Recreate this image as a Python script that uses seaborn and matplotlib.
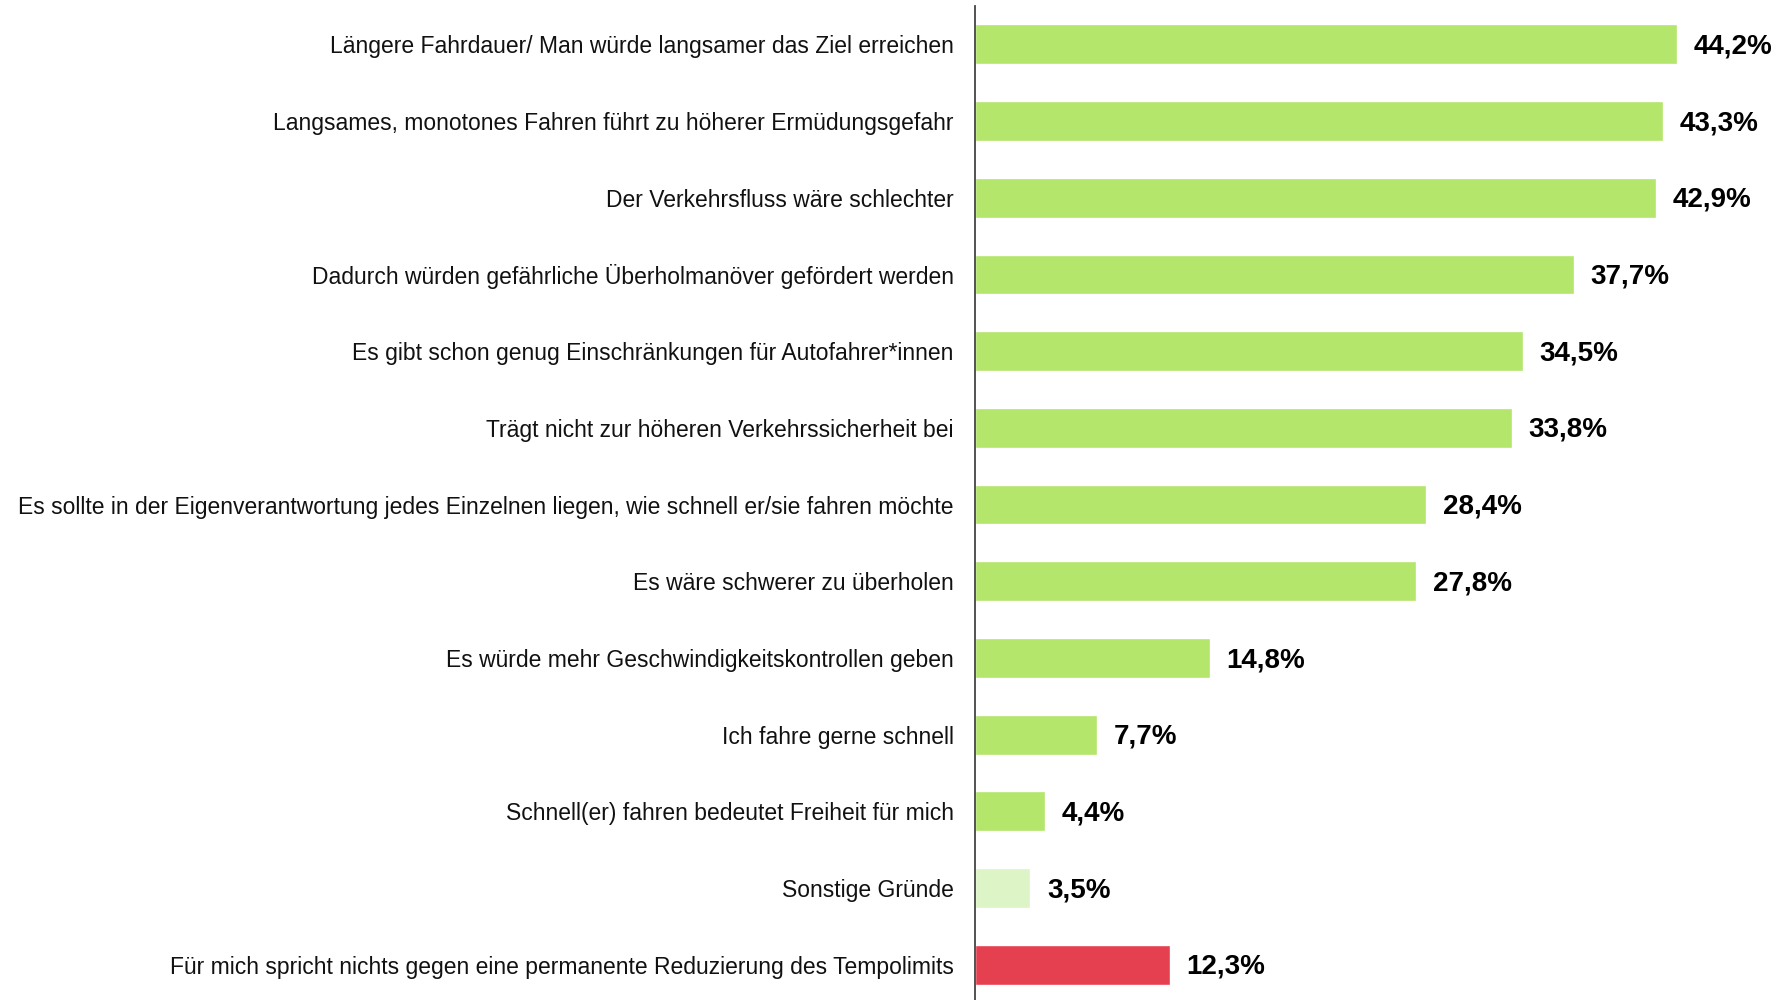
import matplotlib
matplotlib.use("Agg")
import matplotlib.pyplot as plt
import seaborn as sns
import pandas as pd

# reasons against a permanent speed limit reduction, share of answers in %
labels = [
    "Längere Fahrdauer/ Man würde langsamer das Ziel erreichen",
    "Langsames, monotones Fahren führt zu höherer Ermüdungsgefahr",
    "Der Verkehrsfluss wäre schlechter",
    "Dadurch würden gefährliche Überholmanöver gefördert werden",
    "Es gibt schon genug Einschränkungen für Autofahrer*innen",
    "Trägt nicht zur höheren Verkehrssicherheit bei",
    "Es sollte in der Eigenverantwortung jedes Einzelnen liegen, wie schnell er/sie fahren möchte",
    "Es wäre schwerer zu überholen",
    "Es würde mehr Geschwindigkeitskontrollen geben",
    "Ich fahre gerne schnell",
    "Schnell(er) fahren bedeutet Freiheit für mich",
    "Sonstige Gründe",
    "Für mich spricht nichts gegen eine permanente Reduzierung des Tempolimits",
]
values = [44.2, 43.3, 42.9, 37.7, 34.5, 33.8, 28.4, 27.8, 14.8, 7.7, 4.4, 3.5, 12.3]
colors = ["#B3E66A"] * 11 + ["#DDF4C6", "#E5404F"]

df = pd.DataFrame({"reason": labels, "share": values})

sns.set_style("white")
plt.rcParams["font.family"] = ["Liberation Sans", "DejaVu Sans"]

fig = plt.figure(figsize=(17.85, 10), dpi=100)
ax = fig.add_axes([0.546, 0.0, 0.454, 0.994])

sns.barplot(data=df, x="share", y="reason", hue="reason", palette=colors,
            legend=False, orient="h", width=0.52, saturation=1, ax=ax)

for i, v in enumerate(values):
    ax.annotate(f"{v:.1f}%".replace(".", ","), (v, i), xytext=(12, -1.5),
                textcoords="offset points", va="center", ha="left",
                fontsize=20, fontweight="bold", color="black")

ax.set_xlim(0, 51)
ax.set_ylim(12.46, -0.5)
ax.set(xlabel="", ylabel="")
ax.set_xticks([])
ax.tick_params(axis="y", length=0, pad=15, labelsize=16.5, labelcolor="#111111")
for s in ["top", "right", "bottom"]:
    ax.spines[s].set_visible(False)
ax.spines["left"].set_color("#444444")
ax.spines["left"].set_linewidth(1.3)

fig.savefig("out.png", dpi=100)
